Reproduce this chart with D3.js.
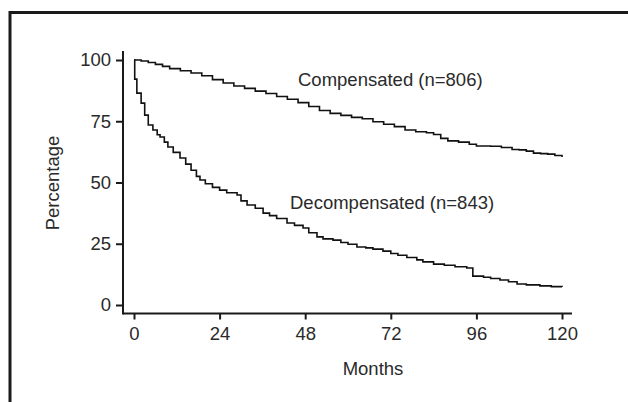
<!DOCTYPE HTML>
<html>
<head>
<meta charset="UTF8">
<script src="https://d3js.org/d3.v7.min.js"></script>
<style>
body { margin: 0; background: white; }
svg { display: block; }
text { font-family: "Liberation Sans", Arial, sans-serif; fill: #2a2a2a; }
</style>
</head>
<body>
<svg></svg>
<script>
// Kaplan-Meier survival (months, percentage)
const compMonths = [0, 2, 4, 6, 8, 10, 13, 16, 19, 22, 25, 28, 31, 34, 37, 40, 43, 46, 49, 52, 55, 58, 61, 64, 67, 70, 73, 76, 79, 82, 84, 86, 88, 91, 94, 96, 100, 103, 106, 108, 110, 112, 114, 116, 118, 120];
const compPct = [100, 99.6, 99, 98.2, 97.4, 96.5, 95.6, 94.7, 93.6, 92, 90.6, 89.4, 88.4, 87.3, 86.3, 85.1, 84, 82.6, 81, 79.4, 78.2, 77.4, 76.6, 76, 74.8, 73.8, 72.8, 71.4, 70.7, 70.3, 69.6, 68, 67, 66.5, 65.6, 64.9, 64.8, 64.3, 63.5, 63.3, 62.8, 62, 61.8, 61.6, 61, 60.4];

const decompMonths = [0, 0.2, 0.8, 2, 3, 4, 5.3, 6.5, 7.3, 8.5, 9.5, 11, 12.9, 14.5, 16, 17.5, 18.5, 20, 22, 24, 26, 28.9, 30, 31.7, 34, 36.2, 38, 40, 42.9, 45, 47.4, 49, 51.3, 53, 55.8, 58, 60, 62.5, 65, 67, 69.8, 72, 74, 76.5, 79.3, 81, 84, 87, 90, 93.3, 95, 98, 100, 102.6, 105, 107.4, 110, 113.8, 117, 120];
const decompPct = [100, 92.2, 86.5, 82.4, 77.5, 73.5, 71.4, 69.5, 68.6, 66.5, 64.5, 62.3, 60, 57.5, 55, 52.5, 51, 49.5, 48, 46.9, 45.8, 44.9, 42.5, 40.8, 39.5, 37.5, 36.5, 35.3, 33.5, 32.5, 31.4, 29.5, 27.8, 27, 26.5, 25.5, 24.8, 23.7, 23.3, 22.8, 22, 21, 20.3, 19.4, 18.4, 17.6, 16.7, 16.2, 15.6, 15.1, 11.8, 11.3, 10.8, 10.2, 9.5, 8.6, 8.2, 7.8, 7.5, 7.3];

const xTicks = [0, 24, 48, 72, 96, 120];
const yTicks = [0, 25, 50, 75, 100];
const curveLabels = ["Compensated (n=806)", "Decompensated (n=843)"];

const W = 628, H = 402;
const fs = 18.5;
const svg = d3.select("svg").attr("width", W).attr("height", H);

// outer frame, running off the right and bottom edges
svg.append("rect")
  .attr("x", 10).attr("y", 12.5)
  .attr("width", W).attr("height", H)
  .attr("fill", "none").attr("stroke", "#1a1a1a").attr("stroke-width", 3);

const x = d3.scaleLinear().domain([0, 120]).range([134, 562]);
const y = d3.scaleLinear().domain([0, 100]).range([305, 60]);

const xAxis = d3.axisBottom(x).tickValues(xTicks).tickSize(6).tickPadding(6);
const yAxis = d3.axisLeft(y).tickValues(yTicks).tickSize(7).tickPadding(5);

const gx = svg.append("g").attr("transform", "translate(0,313.5)").call(xAxis);
const gy = svg.append("g").attr("transform", "translate(123,0)").call(yAxis);

[gx, gy].forEach(g => {
  g.select(".domain").remove();
  g.selectAll("line").attr("stroke", "#1a1a1a").attr("stroke-width", 2);
  g.selectAll("text").attr("font-size", fs).attr("fill", "#2a2a2a")
    .style("font-family", "'Liberation Sans', Arial, sans-serif");
});
gx.selectAll("text").attr("dy", "0.71em").attr("y", 13);

// axis lines extend a little beyond the data range
svg.append("line")
  .attr("x1", 123).attr("x2", x(122.8))
  .attr("y1", 313.5).attr("y2", 313.5)
  .attr("stroke", "#1a1a1a").attr("stroke-width", 2);
svg.append("line")
  .attr("x1", 123).attr("x2", 123)
  .attr("y1", 314.5).attr("y2", y(103.7))
  .attr("stroke", "#1a1a1a").attr("stroke-width", 2);

const line = d3.line()
  .x(d => x(d[0]))
  .y(d => y(d[1]))
  .curve(d3.curveStepAfter);

const series = [
  d3.zip(compMonths, compPct),
  d3.zip(decompMonths, decompPct)
];

svg.selectAll("path.km")
  .data(series)
  .enter()
  .append("path")
  .attr("class", "km")
  .attr("d", line)
  .attr("fill", "none")
  .attr("stroke", "#111")
  .attr("stroke-width", 1.6);

svg.append("text").attr("x", 298).attr("y", 86).attr("font-size", fs).text(curveLabels[0]);
svg.append("text").attr("x", 290).attr("y", 209).attr("font-size", fs).text(curveLabels[1]);

svg.append("text")
  .attr("x", 373).attr("y", 375)
  .attr("text-anchor", "middle").attr("font-size", fs)
  .text("Months");

svg.append("text")
  .attr("transform", "translate(59,183) rotate(-90)")
  .attr("text-anchor", "middle").attr("font-size", fs)
  .text("Percentage");
</script>
</body>
</html>
